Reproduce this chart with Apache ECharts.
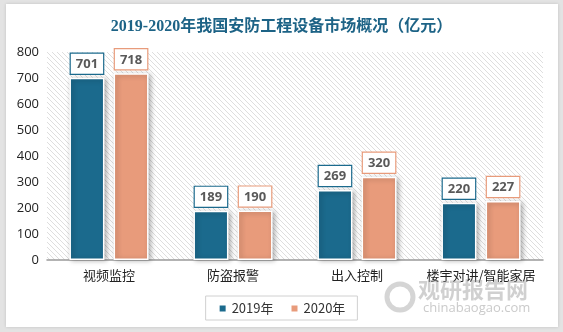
<!DOCTYPE html>
<html><head><meta charset="utf-8">
<script src="https://cdn.jsdelivr.net/npm/echarts@6/dist/echarts.min.js"></script>
<style>html,body{margin:0;padding:0;background:#e3e3e3;}#wrap{position:absolute;left:6px;top:4px;width:552px;height:323px;background:#fff;box-shadow:0 0 3px rgba(0,0,0,0.15);}#c{position:absolute;left:0;top:0;width:563px;height:332px;}</style>
</head><body><div id="wrap"></div><div id="c"></div>
<script>
const categories = ['视频监控', '防盗报警', '出入控制', '楼宇对讲/智能家居'];
const seriesNames = ['2019年', '2020年'];
const values2019 = [701, 189, 269, 220];
const values2020 = [718, 190, 320, 227];
const yTicks = [0, 100, 200, 300, 400, 500, 600, 700, 800];

const colors = ['#1b6a8d', '#e89b7b'];

// hatch pattern
const pc = document.createElement('canvas');
pc.width = 5; pc.height = 5;
const px = pc.getContext('2d');
px.fillStyle = '#ffffff'; px.fillRect(0,0,5,5);
px.fillStyle = '#dedede';
for (let i = 0; i < 5; i++) { px.fillRect(i, i, 1, 1); }

const chart = echarts.init(document.getElementById('c'), null, {renderer: 'canvas'});
const labelStyle = (c) => ({
  show: true, position: 'top', distance: 4,
  backgroundColor: '#fff', borderColor: c, borderWidth: 1.2,
  padding: [4, 5, 3, 5], color: '#595959', fontWeight: 'bold', fontSize: 13,
  fontFamily: 'Open Sans, Noto Sans, sans-serif'
});
chart.setOption({
  animation: false,
  backgroundColor: 'transparent',
  title: {
    text: '2019-2020年我国安防工程设备市场概况（亿元）',
    left: 'center', top: 14,
    textStyle: { color: '#1d6386', fontSize: 16, fontWeight: 'bold', fontFamily: '"Liberation Serif", "Noto Sans CJK SC", serif' }
  },
  grid: { left: 47, right: 20, top: 52, bottom: 72, show: true, borderWidth: 0,
    backgroundColor: { image: pc, repeat: 'repeat' } },
  legend: {
    data: seriesNames, bottom: 12, left: 'center',
    borderColor: '#d0d0d0', borderWidth: 1, padding: [6, 12, 5, 12],
    itemWidth: 8, itemHeight: 8, itemGap: 16, icon: 'rect',
    textStyle: { fontSize: 13, color: '#333', fontFamily: '"Noto Sans CJK SC", sans-serif' }
  },
  xAxis: {
    type: 'category', data: categories,
    axisLine: { lineStyle: { color: '#9a9a9a', width: 1.5 } },
    axisTick: { show: false },
    axisLabel: { interval: 0, color: '#222', fontSize: 13, margin: 9, fontFamily: '"Noto Sans CJK SC", sans-serif' }
  },
  yAxis: {
    type: 'value', min: yTicks[0], max: yTicks[yTicks.length - 1], interval: 100,
    splitLine: { show: false }, axisLine: { show: false }, axisTick: { show: false },
    axisLabel: { color: '#222', fontSize: 13, margin: 8, fontFamily: '"Open Sans", sans-serif' }
  },
  series: [
    { name: seriesNames[0], type: 'bar', data: values2019, barWidth: 35, barGap: '26%',
      itemStyle: { color: colors[0], borderColor: '#fff', borderWidth: 1.5, shadowBlur: 5, shadowColor: 'rgba(0,0,0,0.3)', shadowOffsetX: 2, shadowOffsetY: 1 },
      label: labelStyle(colors[0]) },
    { name: seriesNames[1], type: 'bar', data: values2020, barWidth: 35,
      itemStyle: { color: colors[1], borderColor: '#fff', borderWidth: 1.5, shadowBlur: 5, shadowColor: 'rgba(0,0,0,0.3)', shadowOffsetX: 2, shadowOffsetY: 1 },
      label: labelStyle(colors[1]) }
  ],
  graphic: [
    { type: 'text', left: 418, top: 279, z: 100, style: { text: '观研报告网', fontSize: 22, fontWeight: 'bold', fill: 'rgba(150,150,150,0.45)', fontFamily: '"Noto Sans CJK SC", sans-serif' } },
    { type: 'text', left: 423, top: 302, z: 100, style: { text: 'chinabaogao.com', fontSize: 13, fill: 'rgba(150,150,150,0.5)', fontFamily: '"Open Sans", sans-serif' } },
    { type: 'circle', shape: { cx: 400, cy: 297, r: 13 }, z: 100, style: { fill: 'none', stroke: 'rgba(150,150,150,0.4)', lineWidth: 5 } }
  ]
});
</script></body></html>
